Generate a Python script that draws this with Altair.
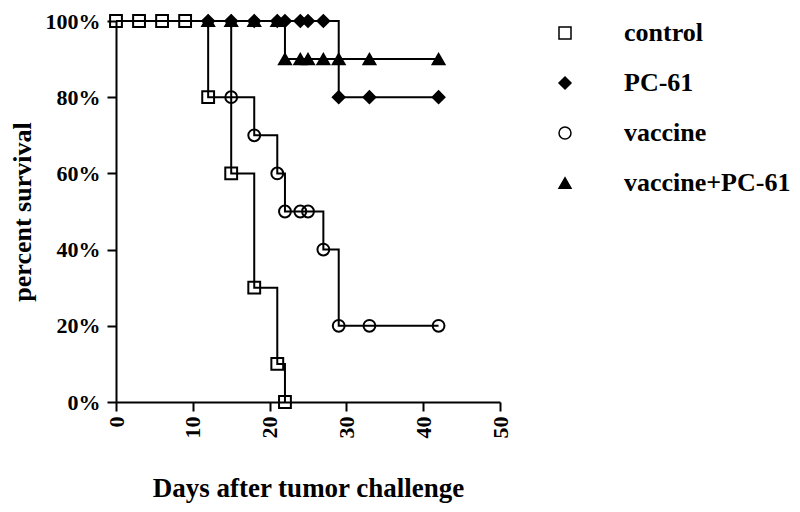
import altair as alt
import pandas as pd

groups = ["control", "PC-61", "vaccine", "vaccine+PC-61"]

control_days = [0, 3, 6, 9, 12, 15, 18, 21, 22]
control_surv = [100, 100, 100, 100, 80, 60, 30, 10, 0]

pc61_days = [12, 15, 18, 21, 22, 24, 25, 27, 29, 33, 42]
pc61_surv = [100, 100, 100, 100, 100, 100, 100, 100, 80, 80, 80]

vaccine_days = [15, 18, 21, 22, 24, 25, 27, 29, 33, 42]
vaccine_surv = [80, 70, 60, 50, 50, 50, 40, 20, 20, 20]

combo_days = [12, 15, 18, 21, 22, 24, 25, 27, 29, 33, 42]
combo_surv = [100, 100, 100, 100, 90, 90, 90, 90, 90, 90, 90]

start_day = 0
start_surv = 100

x_ticks = [0, 10, 20, 30, 40, 50]
y_ticks = [0, 20, 40, 60, 80, 100]

series = {
    "control": (control_days, control_surv),
    "PC-61": (pc61_days, pc61_surv),
    "vaccine": (vaccine_days, vaccine_surv),
    "vaccine+PC-61": (combo_days, combo_surv),
}

marker_rows = []
line_rows = []
for g, (days, surv) in series.items():
    if days[0] != start_day:
        line_rows.append({"group": g, "day": start_day, "survival": start_surv})
    for d, s in zip(days, surv):
        marker_rows.append({"group": g, "day": d, "survival": s})
        line_rows.append({"group": g, "day": d, "survival": s})

markers = pd.DataFrame(marker_rows)
lines = pd.DataFrame(line_rows)

FONT = "Liberation Serif"

x_enc = alt.X(
    "day:Q",
    scale=alt.Scale(domain=[0, 50], nice=False),
    axis=alt.Axis(
        values=x_ticks,
        title="Days after tumor challenge",
        labelAngle=270,
        labelPadding=5,
        titleX=192,
        titleY=94,
        titleAlign="center",
        titleBaseline="alphabetic",
    ),
)
y_enc = alt.Y(
    "survival:Q",
    scale=alt.Scale(domain=[0, 100], nice=False),
    axis=alt.Axis(
        values=y_ticks,
        labelExpr="datum.value + '%'",
        title="percent survival",
        labelPadding=7,
        titleX=-94,
        titleY=190.5,
        titleAngle=270,
        titleAlign="center",
        titleBaseline="middle",
        titleFontSize=26,
    ),
)

legend = alt.Legend(orient="none", legendX=436, legendY=-1)

line_layer = alt.Chart(lines).mark_line(
    interpolate="step-after", color="black", strokeWidth=2
).encode(x=x_enc, y=y_enc, detail="group:N")

point_layer = alt.Chart(markers).mark_point(
    strokeWidth=2, size=140, opacity=1
).encode(
    x=x_enc,
    y=y_enc,
    shape=alt.Shape(
        "group:N",
        scale=alt.Scale(domain=groups, range=["square", "diamond", "circle", "triangle-up"]),
        legend=legend,
        title=None,
    ),
    fill=alt.Fill(
        "group:N",
        scale=alt.Scale(domain=groups, range=["transparent", "black", "transparent", "black"]),
        legend=legend,
        title=None,
    ),
    stroke=alt.Stroke(
        "group:N",
        scale=alt.Scale(domain=groups, range=["black", "black", "black", "black"]),
        legend=legend,
        title=None,
    ),
)

chart = (
    alt.layer(line_layer, point_layer)
    .properties(
        width=384,
        height=381,
        autosize=alt.AutoSizeParams(type="none"),
        padding={"left": 108, "top": 13, "right": 290, "bottom": 102},
    )
    .configure_view(strokeWidth=0)
    .configure_axis(
        grid=False,
        domainColor="black",
        domainWidth=2,
        tickColor="black",
        tickWidth=2,
        tickSize=9,
        labelFont=FONT,
        labelFontSize=22,
        labelFontWeight="bold",
        labelColor="black",
        titleFont=FONT,
        titleFontSize=27,
        titleFontWeight="bold",
        titleColor="black",
    )
    .configure_legend(
        labelFont=FONT,
        labelFontSize=26,
        labelFontWeight="bold",
        labelColor="black",
        symbolSize=144,
        symbolStrokeWidth=1.5,
        labelOffset=46,
        rowPadding=24,
        padding=0,
        labelLimit=400,
    )
)

chart.save("out.html", embed_options={"renderer": "svg", "actions": False})
